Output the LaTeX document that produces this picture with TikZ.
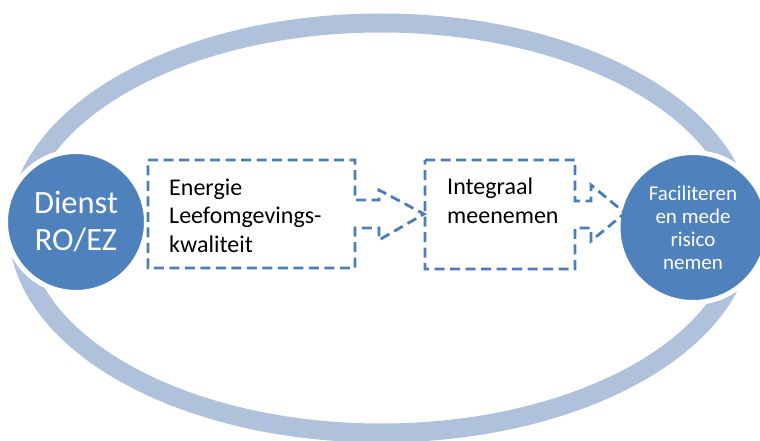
\documentclass[tikz,border=0pt]{standalone}
\usepackage{fontspec}
\setmainfont{Carlito}
\definecolor{circblue}{HTML}{4F81BD}
\definecolor{bandblue}{HTML}{B0C1DC}
\definecolor{dashblue}{HTML}{4A7EBB}
\begin{document}
\begin{tikzpicture}[x=1pt,y=-1pt,
  band/.style={draw=bandblue,line width=19pt},
  hub/.style={circle,fill=circblue,draw=white,line width=5pt,inner sep=0pt,text=white,align=center},
  flow/.style={draw=dashblue,line width=2.8pt,dash pattern=on 10pt off 5.5pt,line join=miter},
  lbl/.style={inner sep=0pt,anchor=base west,align=left,font=\fontsize{24}{28.5}\selectfont}]
\useasboundingbox (0,0) rectangle (760,441);
\draw[band] (381,228) ellipse [x radius=363pt, y radius=205pt];
\node[hub,minimum size=141pt,font=\fontsize{32.5}{37}\selectfont] (dienst) at (76,222) {Dienst\\RO/EZ};
\node[hub,minimum size=150pt,font=\fontsize{21}{23}\selectfont] (fac) at (693,227.5) {Faciliteren\\en mede\\risico\\nemen};
\draw[flow] (148,160) -- (355,160) -- (355,200) -- (379,200) -- (379,190) -- (424,214) -- (379,240) -- (379,228) -- (355,228) -- (355,268) -- (148,268) -- cycle;
\draw[flow] (425,160) -- (575,160) -- (575,201) -- (591,201) -- (591,185) -- (625,213) -- (591,241) -- (591,228) -- (575,228) -- (575,269) -- (425,269) -- cycle;
\node[lbl] (t1) at (169,252) {Energie\\Leefomgevings-\\kwaliteit};
\node[lbl] (t2) at (447,223) {Integraal\\meenemen};
\end{tikzpicture}
\end{document}
